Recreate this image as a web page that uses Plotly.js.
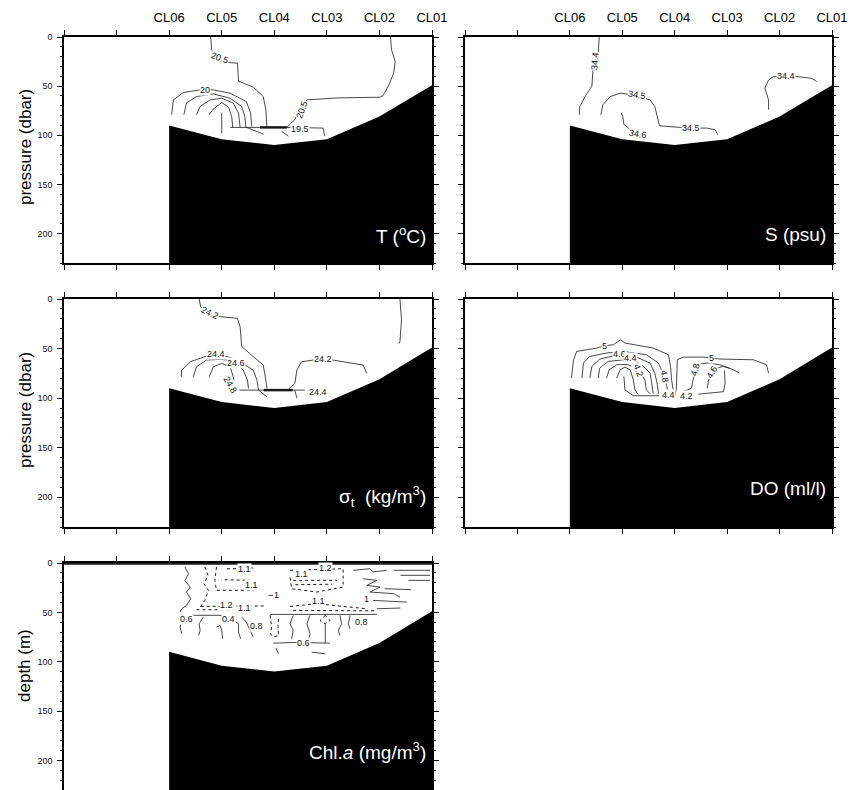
<!DOCTYPE html>
<html><head><meta charset="utf-8">
<script src="https://cdn.plot.ly/plotly-3.0.1.min.js"></script>
<style>html,body{margin:0;padding:0;background:#fff}#chart{width:850px;height:790px}</style>
</head><body><div id="chart"></div>
<script>
// ---------- data ----------
const stations = ['CL06','CL05','CL04','CL03','CL02','CL01'];
const stationX = [2,3,4,5,6,7];
const bottomDepth = [90,104,110,104,81,49];
const depthTicks = [0,50,100,150,200];
const maxDepth = 230;

// Temperature isolines [x, pressure]
const T_205_left = [[2.79,0],[2.81,13],[2.87,18],[2.97,22],[3.09,25.7],[3.30,26.7],[3.32,45],[3.60,51],[3.79,60.6],[3.84,74],[3.86,92]];
const T_205_right = [[6.21,0],[6.23,13],[6.30,25],[6.27,37],[6.17,50],[6.07,59.6],[6.01,61.3],[5.2,62],[4.62,64],[4.55,70],[4.45,80],[4.39,84],[4.24,92]];
const T_200 = [[2.05,79],[2.08,64],[2.27,56.5],[2.59,53.8],[2.84,53.8],[3.16,57.2],[3.47,65.7],[3.55,77.5],[3.57,91]];
const T_199 = [[2.28,79],[2.33,67],[2.52,60.6],[2.84,57.9],[3.16,62.3],[3.38,70.7],[3.44,81],[3.46,92]];
const T_198 = [[2.52,79],[2.59,70.7],[2.78,64],[3.0,62.3],[3.22,67.3],[3.32,77.5],[3.35,92]];
const T_197 = [[2.76,79],[2.84,73.4],[3.0,66.7],[3.13,71.4],[3.19,81],[3.21,92]];
const T_196 = [[3.0,77.5],[3.0,98]];
const T_front = [[3.16,92],[4.24,92]];
const T_front_bold = [[3.73,92],[4.24,92]];
const T_195 = [[4.24,92],[4.68,92],[4.93,92.7],[4.96,101]];
const T_tail1 = [[3.47,92],[3.79,98.8]];
const T_tail2 = [[4.14,96],[4.27,101]];
const T_labels = [[2.97,21,'20.5',20],[2.68,54,'20',0],[4.52,74,'20.5',-70],[4.49,93.5,'19.5',0]];

// Salinity isolines
const S_344_left = [[2.56,0],[2.54,16.6],[2.45,25],[2.43,40],[2.42,50],[2.29,60.6],[2.19,70.7],[2.18,79]];
const S_345 = [[2.59,79],[2.63,69],[2.77,60.6],[2.96,57.2],[3.28,59.5],[3.53,64],[3.62,70.7],[3.66,81],[3.71,90.4],[4.10,92],[4.32,92.7],[4.61,92.7],[4.77,94.4],[4.82,99.5]];
const S_346 = [[2.98,77.5],[3.01,81],[3.03,89],[3.12,92.7],[3.29,97]];
const S_344_right = [[5.79,74],[5.79,64],[5.72,52],[5.79,43.7],[5.88,40.3],[6.12,40],[6.33,40.3],[6.61,42],[6.71,45.3]];
const S_labels = [[2.47,25,'34.4',-85],[3.28,59.5,'34.5',10],[4.32,92.5,'34.5',0],[3.30,98.5,'34.6',10],[6.12,39.6,'34.4',0]];

// Sigma-t isolines
const D_242_left = [[2.57,0],[2.60,7.7],[2.78,14.5],[2.97,17.8],[3.30,19.5],[3.35,28],[3.38,48],[3.60,58.2],[3.79,66.7],[3.84,81.8],[3.86,90.2]];
const D_242_right = [[6.39,0],[6.42,21],[6.39,43],[6.37,45]];
const D_242_mid = [[4.27,91],[4.39,85.2],[4.43,71.7],[4.52,63.3],[4.74,61.6],[4.93,61.6],[5.12,61.6],[5.69,66.7],[5.76,75.1]];
const D_244 = [[2.23,78.5],[2.24,71.7],[2.40,63.3],[2.71,57.6],[2.94,56.6],[3.16,58.9],[3.35,63.3],[3.60,71.7],[3.67,81.8],[3.70,91.9],[3.86,98.7]];
const D_246 = [[2.46,78.5],[2.52,68.4],[2.71,61.6],[2.97,60.9],[3.22,62.3],[3.41,71.7],[3.49,81.8],[3.51,90.2]];
const D_248 = [[2.76,78.5],[2.84,68.4],[3.0,65],[3.16,68.4],[3.22,78.5],[3.25,90.2]];
const D_front = [[3.22,91.9],[4.58,91.9]];
const D_front_bold = [[3.80,91.9],[4.35,91.9]];
const D_tail = [[4.39,92],[4.43,100]];
const D_labels = [[2.78,14,'24.2',25],[4.93,61,'24.2',0],[2.90,55.5,'24.4',0],[3.27,65,'24.6',0],[3.16,87,'24.8',60],[4.84,93.6,'24.4',0]];

// Dissolved oxygen isolines
const O_50 = [[2.03,79.8],[2.07,61.3],[2.13,52.9],[2.51,49.5],[2.67,47.1],[2.83,46.1],[2.97,41.1],[3.05,44.4],[3.59,49.5],[3.88,56.2],[3.92,68],[3.94,81.5],[3.97,91.6],[4.0,98],[4.03,91],[4.04,81.5],[4.05,61.3],[4.16,58.6],[4.55,58.6],[4.70,59.6],[4.86,60.6],[5.50,61.3],[5.75,66.3],[5.79,74.7]];
const O_48 = [[2.23,79.8],[2.26,64.6],[2.38,57.9],[2.70,54.5],[3.02,52.9],[3.46,56.2],[3.69,64.6],[3.78,74.7],[3.80,78],[3.85,88.2],[3.88,95]];
const O_46 = [[2.38,79.8],[2.42,68],[2.57,60.6],[2.95,56],[3.27,58.6],[3.53,64.6],[3.62,74.7],[3.67,86.5],[3.69,95.6]];
const O_44 = [[2.54,79.8],[2.57,69.7],[2.73,63],[3.15,60.6],[3.37,66.3],[3.53,74.7],[3.56,84.8],[3.59,95.6]];
const O_42 = [[2.70,79.8],[2.75,71.4],[2.89,66.3],[3.10,66],[3.31,71.4],[3.43,81.5],[3.46,91.6],[3.53,95.6]];
const O_40 = [[2.89,79.8],[2.96,71.4],[3.05,68.7],[3.15,71.4],[3.21,81.5],[3.24,91.6],[3.30,96]];
const O_38 = [[3.03,78],[3.05,91.6],[3.21,97.6],[3.70,97.6]];
const O_48_right = [[4.10,95],[4.32,90],[4.35,81.5],[4.41,71.4],[4.42,66.3],[4.61,64.6],[4.86,66.3],[5.12,71.4],[5.24,74.7]];
const O_46_right = [[4.45,96],[4.62,95],[4.93,93.5],[4.96,85],[4.95,72]];
const O_46_right2 = [[4.62,90],[4.64,83],[4.72,74],[4.80,69.7],[4.93,68],[5.05,70]];
const O_labels = [[2.67,47,'5',0],[4.70,59.5,'5',0],[3.80,78,'4.8',80],[2.95,55.5,'4.6',0],[3.15,60,'4.4',0],[3.30,72,'4.2',70],[3.88,96.6,'4.4',0],[4.23,97.6,'4.2',0],[4.40,71,'4.8',-75],[4.72,74,'4.6',-60]];

// Chlorophyll-a isolines (solid < 1, dotted >= 1)
const C_solid = [
  [[2.30,4],[2.37,11],[2.30,17.9],[2.40,24.4],[2.33,29.4],[2.41,36.2],[2.33,43],[2.24,46.4],[2.21,49.7]],
  [[2.27,53],[3.22,53]],
  [[3.92,52.1],[5.95,52.1]],
  [[2.24,58],[2.21,64.8],[2.24,71.7]],
  [[2.65,54.8],[2.57,61.6],[2.59,68.4],[2.56,73.4]],
  [[2.90,65],[2.97,63.3],[3.0,68.4],[3.02,76.8]],
  [[3.22,58.2],[3.32,61.6],[3.32,70],[3.36,76.8]],
  [[3.38,54.8],[3.47,59.9],[3.54,68.4],[3.60,75.1]],
  [[4.36,53],[4.30,61.6],[4.36,68.4],[4.33,76.8]],
  [[4.68,53],[4.62,61.6],[4.68,71.7],[4.65,78.5]],
  [[4.97,61.6],[4.97,81]],
  [[5.25,53],[5.28,61.6],[5.22,68.4],[5.25,73.4]],
  [[5.44,53],[5.41,61.6],[5.44,66.7]],
  [[3.98,81.2],[4.40,80.5],[5.06,81.2]],
  [[4.71,90.4],[4.97,92]],
  [[4.03,86],[4.08,92]],
  [[3.89,32.8],[3.98,32.8]],
  [[5.50,7.4],[5.82,5.8],[5.88,9.1],[6.14,7.4]],
  [[5.69,15.9],[5.95,17.6],[5.76,22.7],[6.01,24.4],[5.82,29.4],[6.27,31.1],[6.39,34.5]],
  [[5.88,37.9],[6.52,39.6]],
  [[5.95,46.4],[6.40,45.6]],
  [[6.10,26],[6.60,27]],
  [[6.27,7.4],[6.96,7.4]],
  [[6.40,12.5],[6.96,12.5]],
  [[6.55,17.6],[6.96,17.6]]
];
const C_dotted = [
  [[2.68,4],[2.74,12.5],[2.66,21],[2.75,27.7],[2.68,37.9],[2.59,44.7]],
  [[2.90,4],[2.87,17.6],[2.90,27.7],[3.60,27.7],[3.60,17.6],[2.99,16.9]],
  [[4.30,7.4],[5.31,5.8],[5.31,24.4],[4.81,29.4],[4.33,26.1],[4.30,14.2]],
  [[4.36,17.6],[5.19,17.6]],
  [[4.40,22],[5.10,21.5]],
  [[4.30,44],[4.81,41.3],[5.76,46.4]],
  [[4.36,48],[5.95,48.5]],
  [[2.60,44],[3.80,43.5]],
  [[2.52,47.4],[3.22,47.4]],
  [[3.92,53],[3.95,64.8],[3.93,71.7],[3.98,75.1],[4.08,73.4],[4.07,64.8],[4.08,56.5]],
  [[4.97,53],[4.87,58.2],[4.97,61.6],[5.06,58.2],[4.97,53]],
  [[3.10,6],[3.60,5]]
];
const C_labels = [[3.44,6.4,'1.1',0],[3.57,22.7,'1.1',0],[4.05,32.8,'1',0],[4.52,10.8,'1.1',0],[4.97,5,'1.2',0],[4.84,38.9,'1.1',0],[5.76,36.9,'1',0],[3.09,43,'1.2',0],[3.44,45.3,'1.1',0],[2.33,56.5,'0.6',0],[3.13,56.5,'0.4',0],[3.66,64.3,'0.8',0],[5.66,59.9,'0.8',0],[4.55,81.2,'0.6',0]];

// ---------- build ----------
const FONT = 'Liberation Sans, Arial, Helvetica, sans-serif';
const traces = [];
const annotations = [];
const LINE_COL = '#1a1a1a';

function addLine(pairs, xa, ya, width, dash) {
  traces.push({type:'scatter', mode:'lines', x:pairs.map(p=>p[0]), y:pairs.map(p=>p[1]),
    xaxis:xa, yaxis:ya, line:{color:LINE_COL, width:width||0.8, dash:dash||'solid'}, hoverinfo:'skip', showlegend:false});
}
function addLabels(list, xa, ya, bg) {
  list.forEach(l => annotations.push({xref:xa, yref:ya, x:l[0], y:l[1], text:l[2], textangle:l[3],
    showarrow:false, font:{family:FONT, size:9, color:'#111'}, bgcolor:bg||'rgba(0,0,0,0)', borderpad:0}));
}
function addBottom(xa, ya) {
  traces.push({type:'scatter', mode:'lines', x:[stationX[0], ...stationX, stationX[stationX.length-1]],
    y:[maxDepth, ...bottomDepth, maxDepth], fill:'toself', fillcolor:'#000', line:{width:0, color:'#000'},
    xaxis:xa, yaxis:ya, hoverinfo:'skip', showlegend:false});
}

// Panel 1: T
[T_205_left,T_205_right,T_200,T_199,T_198,T_197,T_196,T_front,T_195,T_tail1,T_tail2].forEach(p=>addLine(p,'x','y'));
addLine(T_front_bold,'x','y',2.5);
addBottom('x','y'); addLabels(T_labels,'x','y','#fff');
// Panel 2: S
[S_344_left,S_345,S_346,S_344_right].forEach(p=>addLine(p,'x2','y2'));
addBottom('x2','y2'); addLabels(S_labels,'x2','y2','#fff');
// Panel 3: sigma-t
[D_242_left,D_242_right,D_242_mid,D_244,D_246,D_248,D_front,D_tail].forEach(p=>addLine(p,'x3','y3'));
addLine(D_front_bold,'x3','y3',2.5);
addBottom('x3','y3'); addLabels(D_labels,'x3','y3','#fff');
// Panel 4: DO
[O_50,O_48,O_46,O_44,O_42,O_40,O_38,O_48_right,O_46_right,O_46_right2].forEach(p=>addLine(p,'x4','y4'));
addBottom('x4','y4'); addLabels(O_labels,'x4','y4','#fff');
// Panel 5: Chl a
C_solid.forEach(p=>addLine(p,'x5','y5',0.8));
C_dotted.forEach(p=>addLine(p,'x5','y5',1,'dot'));
addLine([[0,0.6],[7,0.6]],'x5','y5',2.5);
addBottom('x5','y5'); addLabels(C_labels,'x5','y5','#fff');

// Panel names (white, bottom right)
const panelNames = [
  ['x','y','T (<sup>o</sup>C)',201],
  ['x2','y2','S (psu)',201],
  ['x3','y3','σ<sub>t</sub>  (kg/m<sup>3</sup>)',199],
  ['x4','y4','DO (ml/l)',191],
  ['x5','y5','Chl.<i>a</i> (mg/m<sup>3</sup>)',190]
];
panelNames.forEach(p => annotations.push({xref:p[0], yref:p[1], x:6.92, y:p[3], xanchor:'right', yanchor:'middle',
  text:p[2], showarrow:false, font:{family:FONT, size:19, color:'#fff'}}));

// Y axis titles
[['pressure (dbar)',0.8139],['pressure (dbar)',0.481],['depth (m)',0.157]].forEach(t =>
  annotations.push({xref:'paper', yref:'paper', x:25/850, y:t[1], text:t[0], textangle:-90, showarrow:false,
    xanchor:'center', yanchor:'middle', font:{family:FONT, size:17, color:'#000'}}));

const xl = [64/850, 432/850], xr = [465/850, 832/850];
const y1 = [1-263/790, 1-37/790], y3 = [1-527/790, 1-299/790], y5 = [0, 1-563/790];
const tickV = [0,1,2,3,4,5,6,7];
const tickT = ['', '', ...stations];

function xAxis(dom, anchor, labels) {
  return {domain:dom, anchor:anchor, range:[0,7], side:'top', tickmode:'array', tickvals:tickV,
    ticktext: labels ? tickT : tickV.map(()=>''), ticks:'outside', ticklen:5, tickwidth:1, tickcolor:'#000',
    showline:true, linecolor:'#000', linewidth:1.6, mirror:'ticks', showgrid:false, zeroline:false,
    tickfont:{family:FONT, size:13, color:'#000'}, ticklabelstandoff:3, fixedrange:true};
}
function yAxis(dom, anchor, labels) {
  return {domain:dom, anchor:anchor, range:[maxDepth,0], autorange:false, tickmode:'array', tickvals:depthTicks,
    showticklabels:labels, ticks:'outside', ticklen:5, tickwidth:1, tickcolor:'#000',
    minor:{tickmode:'linear', tick0:0, dtick:10, ticks:'outside', ticklen:2.5, tickcolor:'#000', tickwidth:0.8},
    showline:true, linecolor:'#000', linewidth:1.6, mirror:'ticks', showgrid:false, zeroline:false,
    tickfont:{family:FONT, size:9, color:'#111'}, ticklabelstandoff:3, fixedrange:true};
}

const layout = {
  width:850, height:790, margin:{l:0,r:0,t:0,b:0}, paper_bgcolor:'#fff', plot_bgcolor:'#fff',
  showlegend:false, font:{family:FONT},
  xaxis:xAxis(xl,'y',true), yaxis:yAxis(y1,'x',true),
  xaxis2:xAxis(xr,'y2',true), yaxis2:yAxis(y1,'x2',false),
  xaxis3:xAxis(xl,'y3',false), yaxis3:yAxis(y3,'x3',true),
  xaxis4:xAxis(xr,'y4',false), yaxis4:yAxis(y3,'x4',false),
  xaxis5:xAxis(xl,'y5',false), yaxis5:yAxis(y5,'x5',true),
  annotations:annotations
};
Plotly.newPlot('chart', traces, layout, {staticPlot:true, displayModeBar:false});
</script></body></html>
